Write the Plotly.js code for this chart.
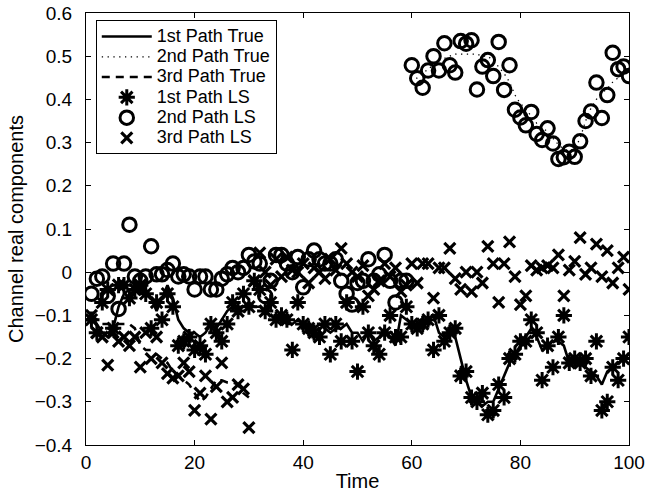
<!DOCTYPE html>
<html>
<head>
<meta charset="utf-8">
<script src="https://cdn.plot.ly/plotly-3.0.1.min.js"></script>
<style>
  html, body { margin: 0; padding: 0; background: #fff; }
  #chart { width: 649px; height: 497px; }
</style>
</head>
<body>
<div id="chart"></div>
<script>
// Time steps of the channel simulation
const timeSteps = [
  1, 2, 3, 4, 5, 6, 7, 8, 9, 10,
  11, 12, 13, 14, 15, 16, 17, 18, 19, 20,
  21, 22, 23, 24, 25, 26, 27, 28, 29, 30,
  31, 32, 33, 34, 35, 36, 37, 38, 39, 40,
  41, 42, 43, 44, 45, 46, 47, 48, 49, 50,
  51, 52, 53, 54, 55, 56, 57, 58, 59, 60,
  61, 62, 63, 64, 65, 66, 67, 68, 69, 70,
  71, 72, 73, 74, 75, 76, 77, 78, 79, 80,
  81, 82, 83, 84, 85, 86, 87, 88, 89, 90,
  91, 92, 93, 94, 95, 96, 97, 98, 99, 100
];

// True real part of path 1 (whole run)
const path1True = [
  -0.10, -0.12, -0.14, -0.15, -0.13, -0.08, -0.05, -0.04, -0.04, -0.05,
  -0.04, -0.06, -0.09, -0.06, -0.03, -0.06, -0.11, -0.13, -0.14, -0.14,
  -0.15, -0.14, -0.12, -0.13, -0.11, -0.09, -0.08, -0.08, -0.08, -0.07,
  -0.08, -0.08, -0.09, -0.10, -0.11, -0.11, -0.12, -0.12, -0.11, -0.12,
  -0.12, -0.13, -0.12, -0.13, -0.14, -0.13, -0.13, -0.12, -0.14, -0.14,
  -0.16, -0.14, -0.16, -0.15, -0.13, -0.15, -0.17, -0.10, -0.11, -0.12,
  -0.12, -0.11, -0.11, -0.10, -0.14, -0.15, -0.14, -0.15, -0.20, -0.25,
  -0.29, -0.30, -0.31, -0.30, -0.30, -0.27, -0.24, -0.21, -0.19, -0.17,
  -0.15, -0.13, -0.15, -0.18, -0.17, -0.16, -0.16, -0.17, -0.21, -0.21,
  -0.21, -0.22, -0.23, -0.24, -0.26, -0.23, -0.22, -0.21, -0.20, -0.19
];

// True real part of path 2 (active from t = 60)
const path2TrueTime = timeSteps.slice(59);
const path2True = [
  0.44, 0.45, 0.46, 0.47, 0.48, 0.49, 0.495, 0.50, 0.505, 0.505,
  0.505, 0.505, 0.505, 0.50, 0.50, 0.49, 0.475, 0.46, 0.44, 0.41,
  0.39, 0.38, 0.36, 0.345, 0.335, 0.325, 0.31, 0.295, 0.285, 0.28,
  0.285, 0.31, 0.35, 0.38, 0.40, 0.415, 0.425, 0.44, 0.45, 0.46, 0.465
];

// True real part of path 3 (active up to t = 30)
const path3TrueTime = timeSteps.slice(0, 30);
const path3True = [
  -0.10, -0.11, -0.12, -0.12, -0.12, -0.12, -0.12, -0.12, -0.13, -0.17,
  -0.18, -0.18, -0.19, -0.20, -0.21, -0.23, -0.24, -0.25, -0.26, -0.28,
  -0.30, -0.29, -0.27, -0.25, -0.25, -0.255, -0.255, -0.26, -0.28, -0.29
];

// Least-squares estimates for each path
const path1LS = [
  -0.11, -0.14, -0.07, -0.04, -0.13, -0.03, -0.03, -0.06, -0.04, -0.03,
  -0.05, -0.13, -0.07, -0.11, -0.05, -0.08, -0.17, -0.16, -0.15, -0.18,
  -0.17, -0.19, -0.12, -0.14, -0.16, -0.12, -0.07, -0.09, -0.05, -0.08,
  -0.02, -0.04, -0.09, -0.07, -0.11, -0.10, -0.11, -0.18, -0.07, -0.12,
  -0.13, -0.14, -0.15, -0.12, -0.19, -0.12, -0.16, -0.07, -0.16, -0.23,
  -0.08, -0.14, -0.17, -0.19, -0.14, -0.10, -0.15, -0.15, -0.08, -0.12,
  -0.13, -0.12, -0.11, -0.18, -0.10, -0.16, -0.14, -0.13, -0.24, -0.23,
  -0.29, -0.30, -0.28, -0.33, -0.32, -0.26, -0.29, -0.20, -0.19, -0.16,
  -0.16, -0.11, -0.14, -0.25, -0.17, -0.22, -0.15, -0.10, -0.21, -0.20,
  -0.21, -0.20, -0.24, -0.16, -0.32, -0.30, -0.22, -0.25, -0.20, -0.15
];

const path2LS = [
  -0.05, -0.015, -0.01, -0.055, 0.02, -0.085, 0.02, 0.11, -0.01, -0.02,
  -0.01, 0.06, -0.005, -0.005, 0.005, 0.02, -0.01, -0.005, -0.01, -0.04,
  -0.01, -0.01, -0.04, -0.04, -0.015, -0.005, 0.01, 0.0, 0.01, 0.04,
  0.025, 0.02, -0.055, -0.02, 0.04, 0.04, 0.02, 0.0, 0.035, -0.035,
  0.03, 0.05, 0.03, 0.02, 0.02, 0.03, -0.02, -0.05, -0.075, -0.025,
  -0.02, 0.03, -0.02, -0.005, 0.04, -0.02, -0.07, -0.02, -0.02, 0.479,
  0.449, 0.427, 0.467, 0.500, 0.467, 0.530, 0.479, 0.462, 0.535, 0.529,
  0.537, 0.423, 0.476, 0.491, 0.454, 0.533, 0.422, 0.479, 0.376, 0.358,
  0.340, 0.371, 0.320, 0.306, 0.333, 0.298, 0.262, 0.266, 0.279, 0.267,
  0.303, 0.350, 0.372, 0.439, 0.357, 0.410, 0.508, 0.470, 0.476, 0.454
];

const path3LS = [
  -0.10, -0.14, -0.15, -0.215, -0.14, -0.16, -0.15, -0.17, -0.15, -0.22,
  -0.14, -0.20, -0.15, -0.21, -0.235, -0.245, -0.24, -0.21, -0.23, -0.32,
  -0.28, -0.24, -0.34, -0.265, -0.21, -0.30, -0.29, -0.26, -0.27, -0.36,
  -0.02, 0.045, 0.00, -0.03, 0.03, -0.01, 0.035, 0.005, 0.0, 0.02,
  -0.025, 0.01, 0.0, -0.015, 0.03, 0.005, 0.055, 0.02, 0.0, -0.01,
  0.015, -0.055, -0.04, -0.02, 0.02, -0.01, 0.01, -0.045, -0.03, 0.02,
  -0.025, 0.02, 0.02, -0.06, 0.01, 0.01, 0.055, -0.015, -0.04, 0.0,
  -0.045, 0.0, -0.025, 0.06, 0.02, -0.07, 0.02, 0.07, -0.01, -0.075,
  -0.055, 0.015, 0.005, 0.01, 0.015, 0.01, 0.04, -0.055, 0.005, 0.025,
  0.08, -0.005, 0.01, 0.065, -0.01, 0.05, -0.025, 0.01, 0.035, -0.04
];

const seriesNames = [
  '1st Path True', '2nd Path True', '3rd Path True',
  '1st Path LS', '2nd Path LS', '3rd Path LS'
];

const FONT = 'Liberation Sans, Arial, Helvetica, sans-serif';
const INK = '#000000';
// legend rows are spaced from the small base size; labels render larger
const label = name => '<span style="font-size:18px">' + name + '</span>';

const traces = [
  {
    x: timeSteps, y: path1True, name: label(seriesNames[0]),
    type: 'scatter', mode: 'lines',
    line: { color: INK, width: 2.6 }
  },
  {
    x: path2TrueTime, y: path2True, name: label(seriesNames[1]),
    type: 'scatter', mode: 'lines',
    line: { color: INK, width: 1.3, dash: '1.3px,4.5px' }
  },
  {
    x: path3TrueTime, y: path3True, name: label(seriesNames[2]),
    type: 'scatter', mode: 'lines',
    line: { color: INK, width: 2.6, dash: '8px,6px' }
  },
  {
    x: timeSteps, y: path1LS, name: label(seriesNames[3]),
    type: 'scatter', mode: 'markers',
    marker: { symbol: 'asterisk-open', size: 13.5, color: INK,
              line: { color: INK, width: 3 } }
  },
  {
    x: timeSteps, y: path2LS, name: label(seriesNames[4]),
    type: 'scatter', mode: 'markers',
    marker: { symbol: 'circle-open', size: 13.5, color: INK,
              line: { color: INK, width: 3 } }
  },
  {
    x: timeSteps, y: path3LS, name: label(seriesNames[5]),
    type: 'scatter', mode: 'markers',
    marker: { symbol: 'x-thin-open', size: 11, color: INK,
              line: { color: INK, width: 3.2 } }
  }
];

const axisCommon = {
  showline: true, linecolor: INK, linewidth: 1,
  mirror: 'ticks', ticks: 'inside', ticklen: 5, tickwidth: 1, tickcolor: INK,
  showgrid: false, zeroline: false,
  tickfont: { family: FONT, size: 19, color: INK }
};

const layout = {
  width: 649, height: 497,
  margin: { l: 86, r: 20, t: 13, b: 52 },
  paper_bgcolor: '#ffffff', plot_bgcolor: '#ffffff',
  font: { family: FONT, color: INK },
  showlegend: true,
  legend: {
    x: 0.018, y: 0.983, xanchor: 'left', yanchor: 'top',
    bgcolor: '#ffffff', bordercolor: INK, borderwidth: 1,
    font: { family: FONT, size: 13.3, color: INK },
    itemwidth: 50, tracegroupgap: 0
  },
  xaxis: Object.assign({}, axisCommon, {
    range: [0, 100], tick0: 0, dtick: 20,
    ticklabelstandoff: 0,
    title: { text: 'Time', font: { family: FONT, size: 20, color: INK }, standoff: 2 }
  }),
  yaxis: Object.assign({}, axisCommon, {
    range: [-0.4, 0.6], tick0: 0, dtick: 0.1,
    ticklabelstandoff: 9,
    title: { text: 'Channel real components', font: { family: FONT, size: 20, color: INK }, standoff: 5 }
  })
};

Plotly.newPlot('chart', traces, layout, { displayModeBar: false, staticPlot: true });
</script>
</body>
</html>
